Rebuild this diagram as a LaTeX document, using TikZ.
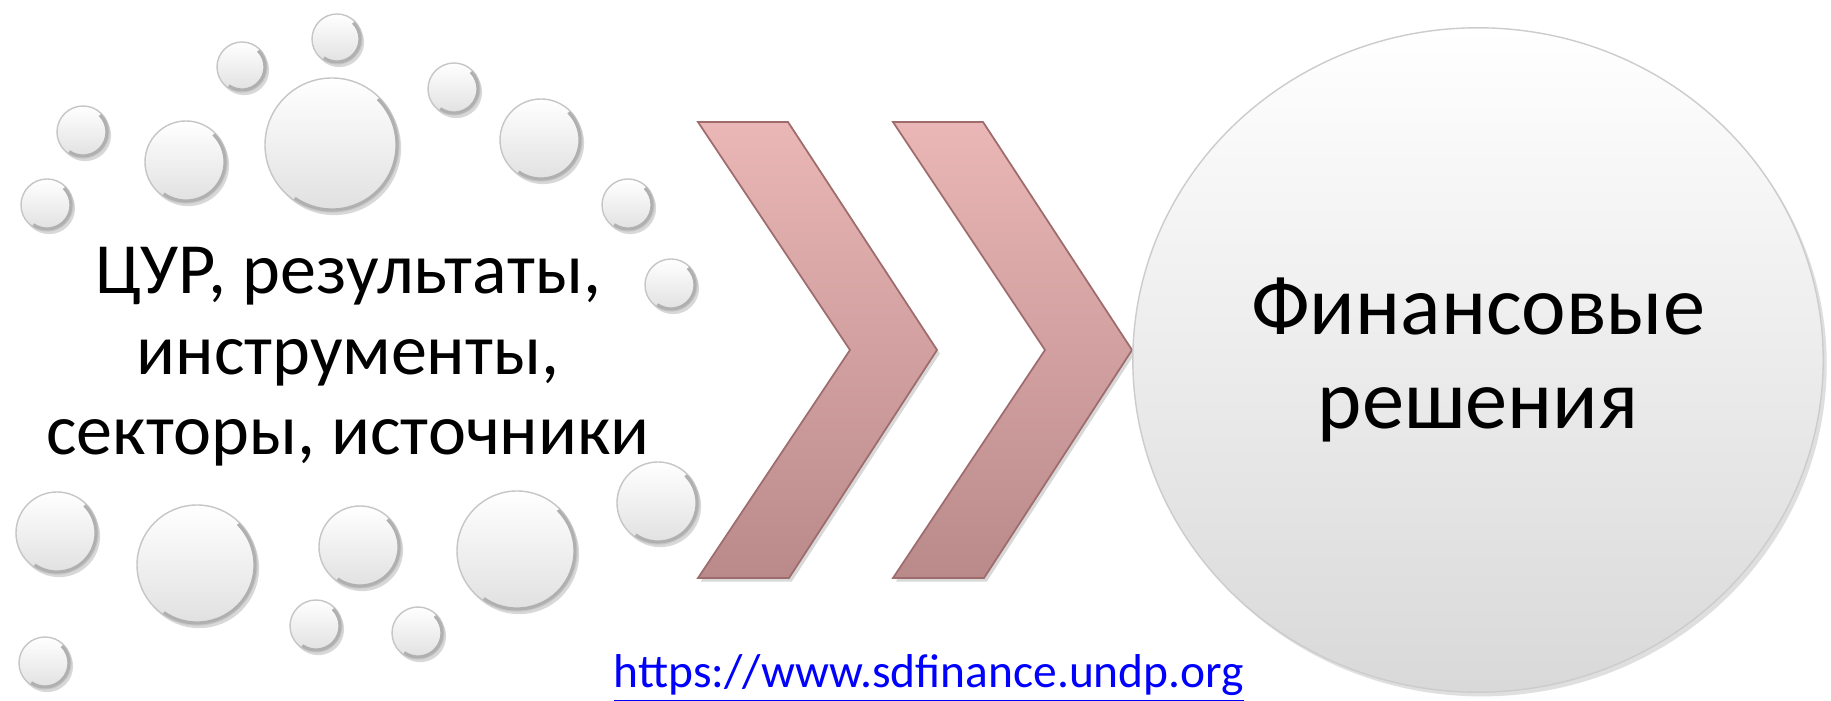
\documentclass[tikz,border=0pt]{standalone}
\usepackage{fontspec}
\setmainfont{Carlito}
\usetikzlibrary{shapes.geometric}
\usetikzlibrary{shadows}
\definecolor{chevtop}{RGB}{234,182,182}
\definecolor{chevbot}{RGB}{186,138,138}
\definecolor{chevedge}{RGB}{158,108,108}
\definecolor{linkblue}{RGB}{0,0,255}
\tikzstyle{bubble}=[top color=white,bottom color=gray!24,draw=gray!45,line width=0.4pt,
  drop shadow={opacity=0.3,shadow xshift=0.6pt,shadow yshift=-0.9pt}]
\tikzstyle{rim}=[gray!62,line width=0.9pt]
\tikzstyle{chevron}=[top color=chevtop,bottom color=chevbot,draw=chevedge,line width=0.5pt,
  drop shadow={opacity=0.3,shadow xshift=0.8pt,shadow yshift=-1pt}]
\tikzstyle{goal}=[ellipse,minimum width=6.9cm,minimum height=6.64cm,align=center,
  top color=white,bottom color=gray!30,draw=gray!40,
  drop shadow={opacity=0.25,shadow xshift=1pt,shadow yshift=-1.2pt}]

\begin{document}
\begin{tikzpicture}[x=0.01cm,y=-0.01cm]
  \useasboundingbox[fill=white] (0,0) rectangle (1831,701);
  % bubbles round the left text
  \foreach \x/\y/\r [evaluate={\q=\r-2;}] in {337/39/25, 242/67/25, 454/89/26,
      332/145/67, 186/162/41, 541/140/41, 83/132/26, 47/205/26, 628/205/26,
      671/285/26, 658/503/41, 57/533/41, 197/565/60, 360/547/41, 517/551/60,
      316/626/26, 418/633/26, 45/663/26}{
    \draw[bubble] (\x,\y) circle (\r);
    \draw[rim] (\x,\y) ++(-45:\q) arc (-45:125:\q);
  }
  % two chevrons
  \foreach \dx in {0,195}{
    \begin{scope}[shift={(\dx,0)}]
      \draw[chevron] (698,122) -- (788,122) -- (937,350) -- (789,578)
        -- (698,578) -- (850,350) -- cycle;
    \end{scope}
  }
  \node[goal,font={\fontsize{24}{26.5}\selectfont}] (fin) at (1478,360)
    {Финансовые\\решения};
  \node[align=center,font={\fontsize{20.5}{22.9}\selectfont}] (inputs) at (348,357)
    {ЦУР, результаты,\\инструменты,\\секторы, источники};
  \node[anchor=base,text=linkblue,font={\fontsize{13.5}{16}\selectfont}] (src) at (929,688)
    {\underline{https://www.sdfinance.undp.org}};
\end{tikzpicture}
\end{document}
